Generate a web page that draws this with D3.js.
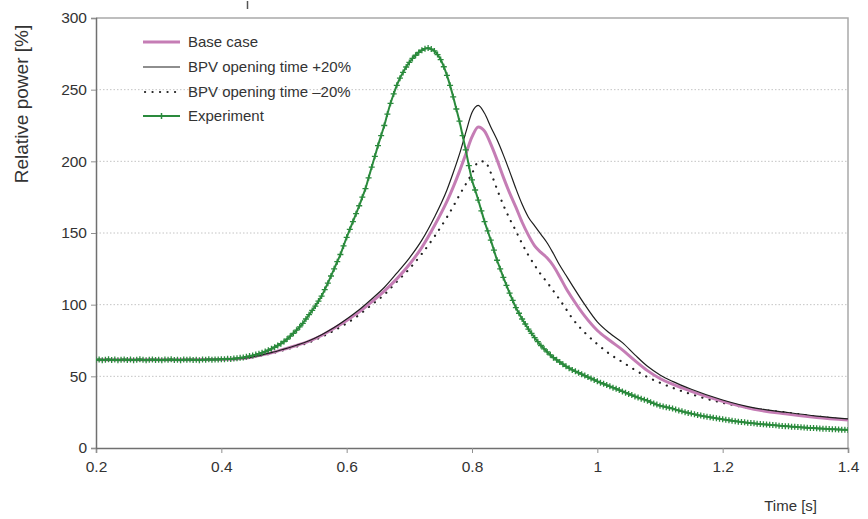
<!DOCTYPE html>
<html><head><meta charset="utf-8">
<script src="https://cdn.jsdelivr.net/npm/d3@7"></script>
<style>
body{margin:0;background:#fff;}
svg text{font-family:"Liberation Sans",Arial,sans-serif;fill:#333;}
</style></head>
<body><div id="chart"></div>
<script>
// ---------- data ----------
const xTicks = [0.2, 0.4, 0.6, 0.8, 1.0, 1.2, 1.4];
const xTickLabels = ["0.2","0.4","0.6","0.8","1","1.2","1.4"];
const yTicks = [0, 50, 100, 150, 200, 250, 300];
const seriesNames = ["Base case","BPV opening time +20%","BPV opening time \u201320%","Experiment"];

const simTime = [0.2,0.3,0.4,0.44,0.46,0.48,0.50,0.52,0.54,0.56,0.58,0.60,0.62,0.64,0.66,0.68,0.70,0.72,0.74,0.76,
  0.77,0.78,0.79,0.80,0.81,0.82,0.83,0.84,0.85,0.86,0.87,0.88,0.89,0.90,0.91,0.92,0.93,0.94,0.95,0.96,
  0.98,1.00,1.02,1.04,1.06,1.08,1.10,1.12,1.15,1.20,1.25,1.30,1.35,1.40];

const baseCase = [61.5,61.5,61.8,62.8,64.5,66.5,69,71.5,74.5,78.5,83.5,89,95,102,109.5,118,128,140,155,172,
  182,193,205,217,224,221,212,201,189,178,168,157.5,148.5,141,136.5,132.5,127,119.5,111.5,104.5,
  92,82,75,68.5,61,54,48.5,44.5,39.5,32.5,27,23.8,21.3,19.5];

const bpvPlus = [61.5,61.5,61.8,62.8,64.5,66.5,69,71.7,74.8,79,84,90,96.5,104,112,122,132.5,145,161,180,
  192,205,220,234,239,233.5,224,215,204.5,193,181,170,161,155,149,143,135.5,127.5,120.5,113.5,
  100,88,80,73.5,65,57,51,46.5,41,33.5,28,25,22.3,20.3];

const bpvMinus = [61.5,61.5,61.8,62.7,64.2,66,68.3,70.8,73.7,77.5,82,87,93,100,107,116,125,135.5,147.5,161,
  168.5,176.5,184,191.5,199.5,200,192,180.5,169.5,160,151.5,142.5,134.5,127.5,121,115.5,109.5,103.5,97,90.5,
  80.5,72.5,65.5,60,54.5,49.5,45.5,42,37.5,31.5,27.5,24.8,22,19.7];

// experiment sampled every 0.005 s from 0.200 s
const expStart = 0.2, expStep = 0.005;
const experiment = [
  61.5,61.8,61.3,61.6,61.9,61.4,61.7,61.2,61.6,61.8,
  61.4,61.7,61.3,61.5,61.9,61.5,61.2,61.6,61.8,61.4,
  61.6,61.3,61.7,61.5,61.9,61.4,61.6,61.2,61.7,61.5,
  61.8,61.4,61.6,61.3,61.7,61.6,61.9,61.5,61.8,61.7,
  62.0,61.9,62.2,62.1,62.4,62.6,62.9,
  63.2,63.6,64.1,64.6,65.2,65.8,66.5,67.3,68.2,69.2,70.3,71.5,72.8,74.3,76.0,78.0,80.0,82.2,84.5,87.0,
  90.0,93.0,96.0,99.0,102.5,106.0,110.5,115.0,120.0,125.0,130.0,135.0,141.0,147.0,152.5,158.0,163.5,169.0,175.0,181.0,
  188.5,196.0,203.5,211.0,218.0,225.0,233.0,240.5,247.0,253.0,258.0,262.0,265.8,269.0,271.8,274.0,276.0,277.5,278.6,279.0,
  278.3,277.0,274.5,271.0,266.0,260.0,253.0,245.0,236.5,228.0,218.0,208.0,197.0,187.0,180.0,173.0,165.5,158.0,151.5,145.0,
  138.0,131.0,125.0,119.0,113.5,108.0,103.0,98.0,94.0,90.0,86.5,83.0,80.0,77.0,74.2,71.5,69.2,67.0,65.0,63.0,
  61.5,60.0,58.5,57.0,55.7,54.5,53.5,52.5,51.5,50.5,49.5,48.5,47.5,46.5,45.6,44.8,43.9,43.0,42.1,41.3,
  40.4,39.5,38.6,37.7,36.9,36.0,35.2,34.4,33.7,33.0,32.0,31.1,30.3,29.5,29.0,28.5,28.0,27.5,26.8,26.2,
  25.6,25.0,24.5,24.0,23.5,23.0,22.6,22.2,21.8,21.5,21.1,20.7,20.4,20.0,19.7,19.4,19.0,18.7,18.4,18.2,
  17.9,17.6,17.4,17.2,16.9,16.7,16.5,16.4,16.2,16.0,15.8,15.6,15.4,15.2,15.1,14.9,14.8,14.6,14.4,14.3,
  14.1,14.0,13.9,13.7,13.6,13.5,13.4,13.2,13.1,13.0,12.9,12.8,12.7,12.6
];

// ---------- layout ----------
const W = 868, H = 519;
const m = {left:96, right:20, top:18, bottom:71};
const svg = d3.select("#chart").append("svg").attr("width",W).attr("height",H);
const x = d3.scaleLinear().domain([0.2,1.4]).range([m.left, W-m.right]);
const y = d3.scaleLinear().domain([0,300]).range([H-m.bottom, m.top]);

const cPink = "#c57db5", cBlack = "#1e1e1e", cGreen = "#2a8a3c";

// gridlines
svg.append("g").selectAll("line").data(yTicks.filter(d=>d>0 && d<300)).join("line")
  .attr("x1",x(0.2)).attr("x2",x(1.4)).attr("y1",d=>y(d)).attr("y2",d=>y(d))
  .attr("stroke","#c4c4c4").attr("stroke-width",1).attr("stroke-dasharray","1.5,2");

// frame top/right
svg.append("path").attr("d",`M${x(0.2)},${y(300)}H${x(1.4)}V${y(0)}`)
  .attr("fill","none").attr("stroke","#a9a9a9").attr("stroke-width",1.5);

// stray mark at top
svg.append("line").attr("x1",247.5).attr("x2",247.5).attr("y1",1).attr("y2",9)
  .attr("stroke","#555").attr("stroke-width",1.5);

// axes
const xAxis = d3.axisBottom(x).tickValues(xTicks).tickFormat((d,i)=>xTickLabels[i]).tickSize(5).tickPadding(8);
const gx = svg.append("g").attr("transform",`translate(0,${y(0)})`).call(xAxis);
const yAxis = d3.axisLeft(y).tickValues(yTicks).tickSize(5).tickPadding(4);
const gy = svg.append("g").attr("transform",`translate(${x(0.2)},0)`).call(yAxis);
[gx,gy].forEach(g=>{
  g.select(".domain").attr("stroke","#707070").attr("stroke-width",1.5);
  g.selectAll(".tick line").attr("stroke","#909090");
  g.selectAll(".tick text").attr("font-size",15.5).attr("fill","#333").attr("font-family","Liberation Sans, Arial, sans-serif");
});

// axis titles
svg.append("text").attr("x",817).attr("y",511).attr("text-anchor","end").attr("font-size",15).text("Time [s]");
svg.append("text").attr("transform",`translate(28,104) rotate(-90)`).attr("text-anchor","middle")
  .attr("font-size",19).text("Relative power [%]");

// lines
const line = d3.line().x(d=>x(d[0])).y(d=>y(d[1])).curve(d3.curveMonotoneX);
const zip = (ts,vs)=>ts.map((t,i)=>[t,vs[i]]);

svg.append("clipPath").attr("id","clip").append("rect")
  .attr("x",x(0.2)).attr("y",y(300)).attr("width",x(1.4)-x(0.2)).attr("height",y(0)-y(300));
const plot = svg.append("g").attr("clip-path","url(#clip)");

plot.append("path").attr("d",line(zip(simTime,bpvMinus))).attr("fill","none")
  .attr("stroke","#222").attr("stroke-width",2.2).attr("stroke-linecap","round").attr("stroke-dasharray","0.1,7.4");
plot.append("path").attr("d",line(zip(simTime,baseCase))).attr("fill","none")
  .attr("stroke",cPink).attr("stroke-width",3);
plot.append("path").attr("d",line(zip(simTime,bpvPlus))).attr("fill","none")
  .attr("stroke",cBlack).attr("stroke-width",1.2);

const expData = experiment.map((v,i)=>[expStart+expStep*i, v]);
plot.append("path").attr("d",line(expData)).attr("fill","none")
  .attr("stroke",cGreen).attr("stroke-width",2);
plot.append("g").selectAll("path").data(expData).join("path")
  .attr("d",d=>`M${x(d[0])-3},${y(d[1])}h6M${x(d[0])},${y(d[1])-3}v6`)
  .attr("stroke",cGreen).attr("stroke-width",1.3).attr("fill","none");

// legend
const lg = svg.append("g");
const rowsY = [42, 67, 92, 116];
const lx1 = 143, lx2 = 180;
lg.append("line").attr("x1",lx1).attr("x2",lx2).attr("y1",rowsY[0]).attr("y2",rowsY[0]).attr("stroke",cPink).attr("stroke-width",3);
lg.append("line").attr("x1",lx1).attr("x2",lx2).attr("y1",rowsY[1]).attr("y2",rowsY[1]).attr("stroke",cBlack).attr("stroke-width",1.2);
lg.append("line").attr("x1",lx1+2).attr("x2",lx2).attr("y1",rowsY[2]).attr("y2",rowsY[2]).attr("stroke","#222")
  .attr("stroke-width",2.2).attr("stroke-linecap","round").attr("stroke-dasharray","0.1,7.4");
lg.append("line").attr("x1",lx1).attr("x2",lx2).attr("y1",rowsY[3]).attr("y2",rowsY[3]).attr("stroke",cGreen).attr("stroke-width",2);
lg.append("path").attr("d",`M${(lx1+lx2)/2},${rowsY[3]-3}v6`).attr("stroke",cGreen).attr("stroke-width",1.5);
lg.selectAll("text").data(seriesNames).join("text")
  .attr("x",188).attr("y",(d,i)=>rowsY[i]).attr("dy","0.35em").attr("font-size",15).text(d=>d);
</script></body></html>
